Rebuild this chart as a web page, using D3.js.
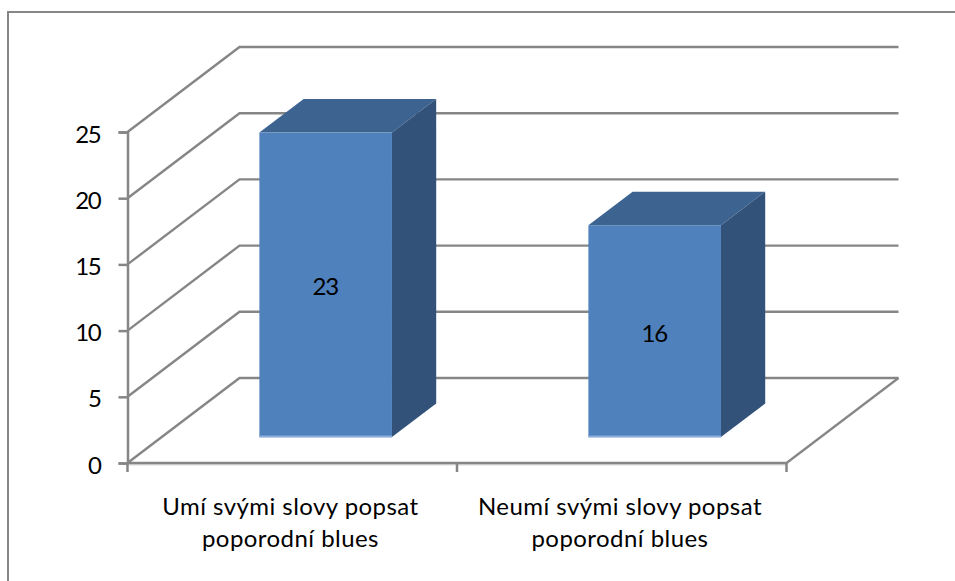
<!DOCTYPE html>
<html>
<head>
<meta charset="utf-8">
<script src="https://cdn.jsdelivr.net/npm/d3@7"></script>
<style>
html,body{margin:0;padding:0;background:#fff;}
svg{display:block;}
text{font-family:Lato,"Open Sans",sans-serif;fill:#000;}
</style>
</head>
<body>
<svg id="chart" width="955" height="581"></svg>
<script>
// Chart content
const categories = [["Umí svými slovy popsat","poporodní blues"],["Neumí svými slovy popsat","poporodní blues"]];
const values = [23,16];
const valueTicks = [0,5,10,15,20,25];

const svg = d3.select("#chart");
const axisGrey = "#868686", gridShade = "#dcdcdc";
const faceFront = "#4f81bd", faceTop = "#3d6391", faceSide = "#325279";
const labelSize = 24, digitSize = 24, digitSpacing = -1.3;

// Oblique projection: depth 0 is the front plane, depth 1 the back wall
const x = d3.scaleBand().domain(d3.range(categories.length)).range([127.5,786.5]).paddingInner(0.597).paddingOuter(0.3).align(0.495);
const y = d3.scaleLinear().domain([0,25]).range([463,132]);
const depthX = d3.scaleLinear().domain([0,1]).range([0,112]);
const depthY = d3.scaleLinear().domain([0,1]).range([0,-85]);
const project = (px,v,z)=>[px+depthX(z), y(v)+depthY(z)];
const line = d3.line();

// Outer chart frame, open on the right and bottom
svg.append("path").attr("d","M8,581V12H955").attr("fill","none").attr("stroke",axisGrey).attr("stroke-width",2);

// Gridlines: back wall segment plus the diagonal on the side wall
const [x0,x1] = x.range();
valueTicks.forEach(t=>{
  svg.append("path").attr("d",line([project(x0,t,0),project(x0,t,1),project(x1,t,1)]))
    .attr("fill","none").attr("stroke",axisGrey).attr("stroke-width",2.4);
});
// Floor edge on the right
svg.append("path").attr("d",line([project(x1,0,0),project(x1,0,1)])).attr("fill","none").attr("stroke",axisGrey).attr("stroke-width",2.2);

// Value axis with tick marks and labels
const yAxis = svg.append("g").attr("transform",`translate(${x0},0)`)
  .call(d3.axisLeft(y).tickValues(valueTicks).tickSize(9).tickPadding(18));
yAxis.selectAll("path,line").attr("stroke",axisGrey).attr("stroke-width",2.5);
yAxis.selectAll("text").attr("font-size",digitSize).attr("font-family","Lato").attr("letter-spacing",digitSpacing).attr("dy",10);

// Category axis baseline and ticks
svg.append("line").attr("x1",x0).attr("x2",x1).attr("y1",464.5).attr("y2",464.5).attr("stroke",gridShade).attr("stroke-width",2);
svg.append("line").attr("x1",x0).attr("x2",x1).attr("y1",y(0)).attr("y2",y(0)).attr("stroke",axisGrey).attr("stroke-width",2.5);
d3.range(categories.length+1).forEach(i=>{
  const tx = x0 + (x1-x0)*i/categories.length;
  svg.append("line").attr("x1",tx).attr("x2",tx).attr("y1",y(0)).attr("y2",y(0)+9).attr("stroke",axisGrey).attr("stroke-width",2.5);
});

// Bars: three visible faces of each cuboid, sitting between two depths
const zNear = 0.305, zFar = 0.70;
values.forEach((v,i)=>{
  const left = x(i), right = left + x.bandwidth();
  const g = svg.append("g");
  g.append("path").attr("fill",faceTop).attr("d",
    line([project(left,v,zNear),project(right,v,zNear),project(right,v,zFar),project(left,v,zFar)])+"Z");
  g.append("path").attr("fill",faceSide).attr("d",
    line([project(right,v,zNear),project(right,v,zFar),project(right,0,zFar),project(right,0,zNear)])+"Z");
  const a = project(left,v,zNear), b = project(right,0,zNear);
  g.append("rect").attr("x",a[0]).attr("y",a[1]).attr("width",b[0]-a[0]).attr("height",b[1]-a[1]).attr("fill",faceFront);
  g.append("rect").attr("x",a[0]).attr("y",b[1]-1.5).attr("width",b[0]-a[0]).attr("height",2).attr("fill","#8eafdc");
  g.append("text").attr("x",(a[0]+b[0])/2-0.5).attr("y",(a[1]+b[1])/2+10.5)
    .attr("text-anchor","middle").attr("font-size",digitSize).attr("letter-spacing",digitSpacing).text(v);
});

// Two-line category labels
categories.forEach((lines,i)=>{
  const cx = x0 + (x1-x0)*(i+0.5)/categories.length - 1.8;
  const t = svg.append("text").attr("text-anchor","middle").attr("font-size",labelSize).attr("letter-spacing",0.45);
  lines.forEach((s,j)=>t.append("tspan").attr("x",cx).attr("y",515+j*32).text(s));
});
</script>
</body>
</html>
